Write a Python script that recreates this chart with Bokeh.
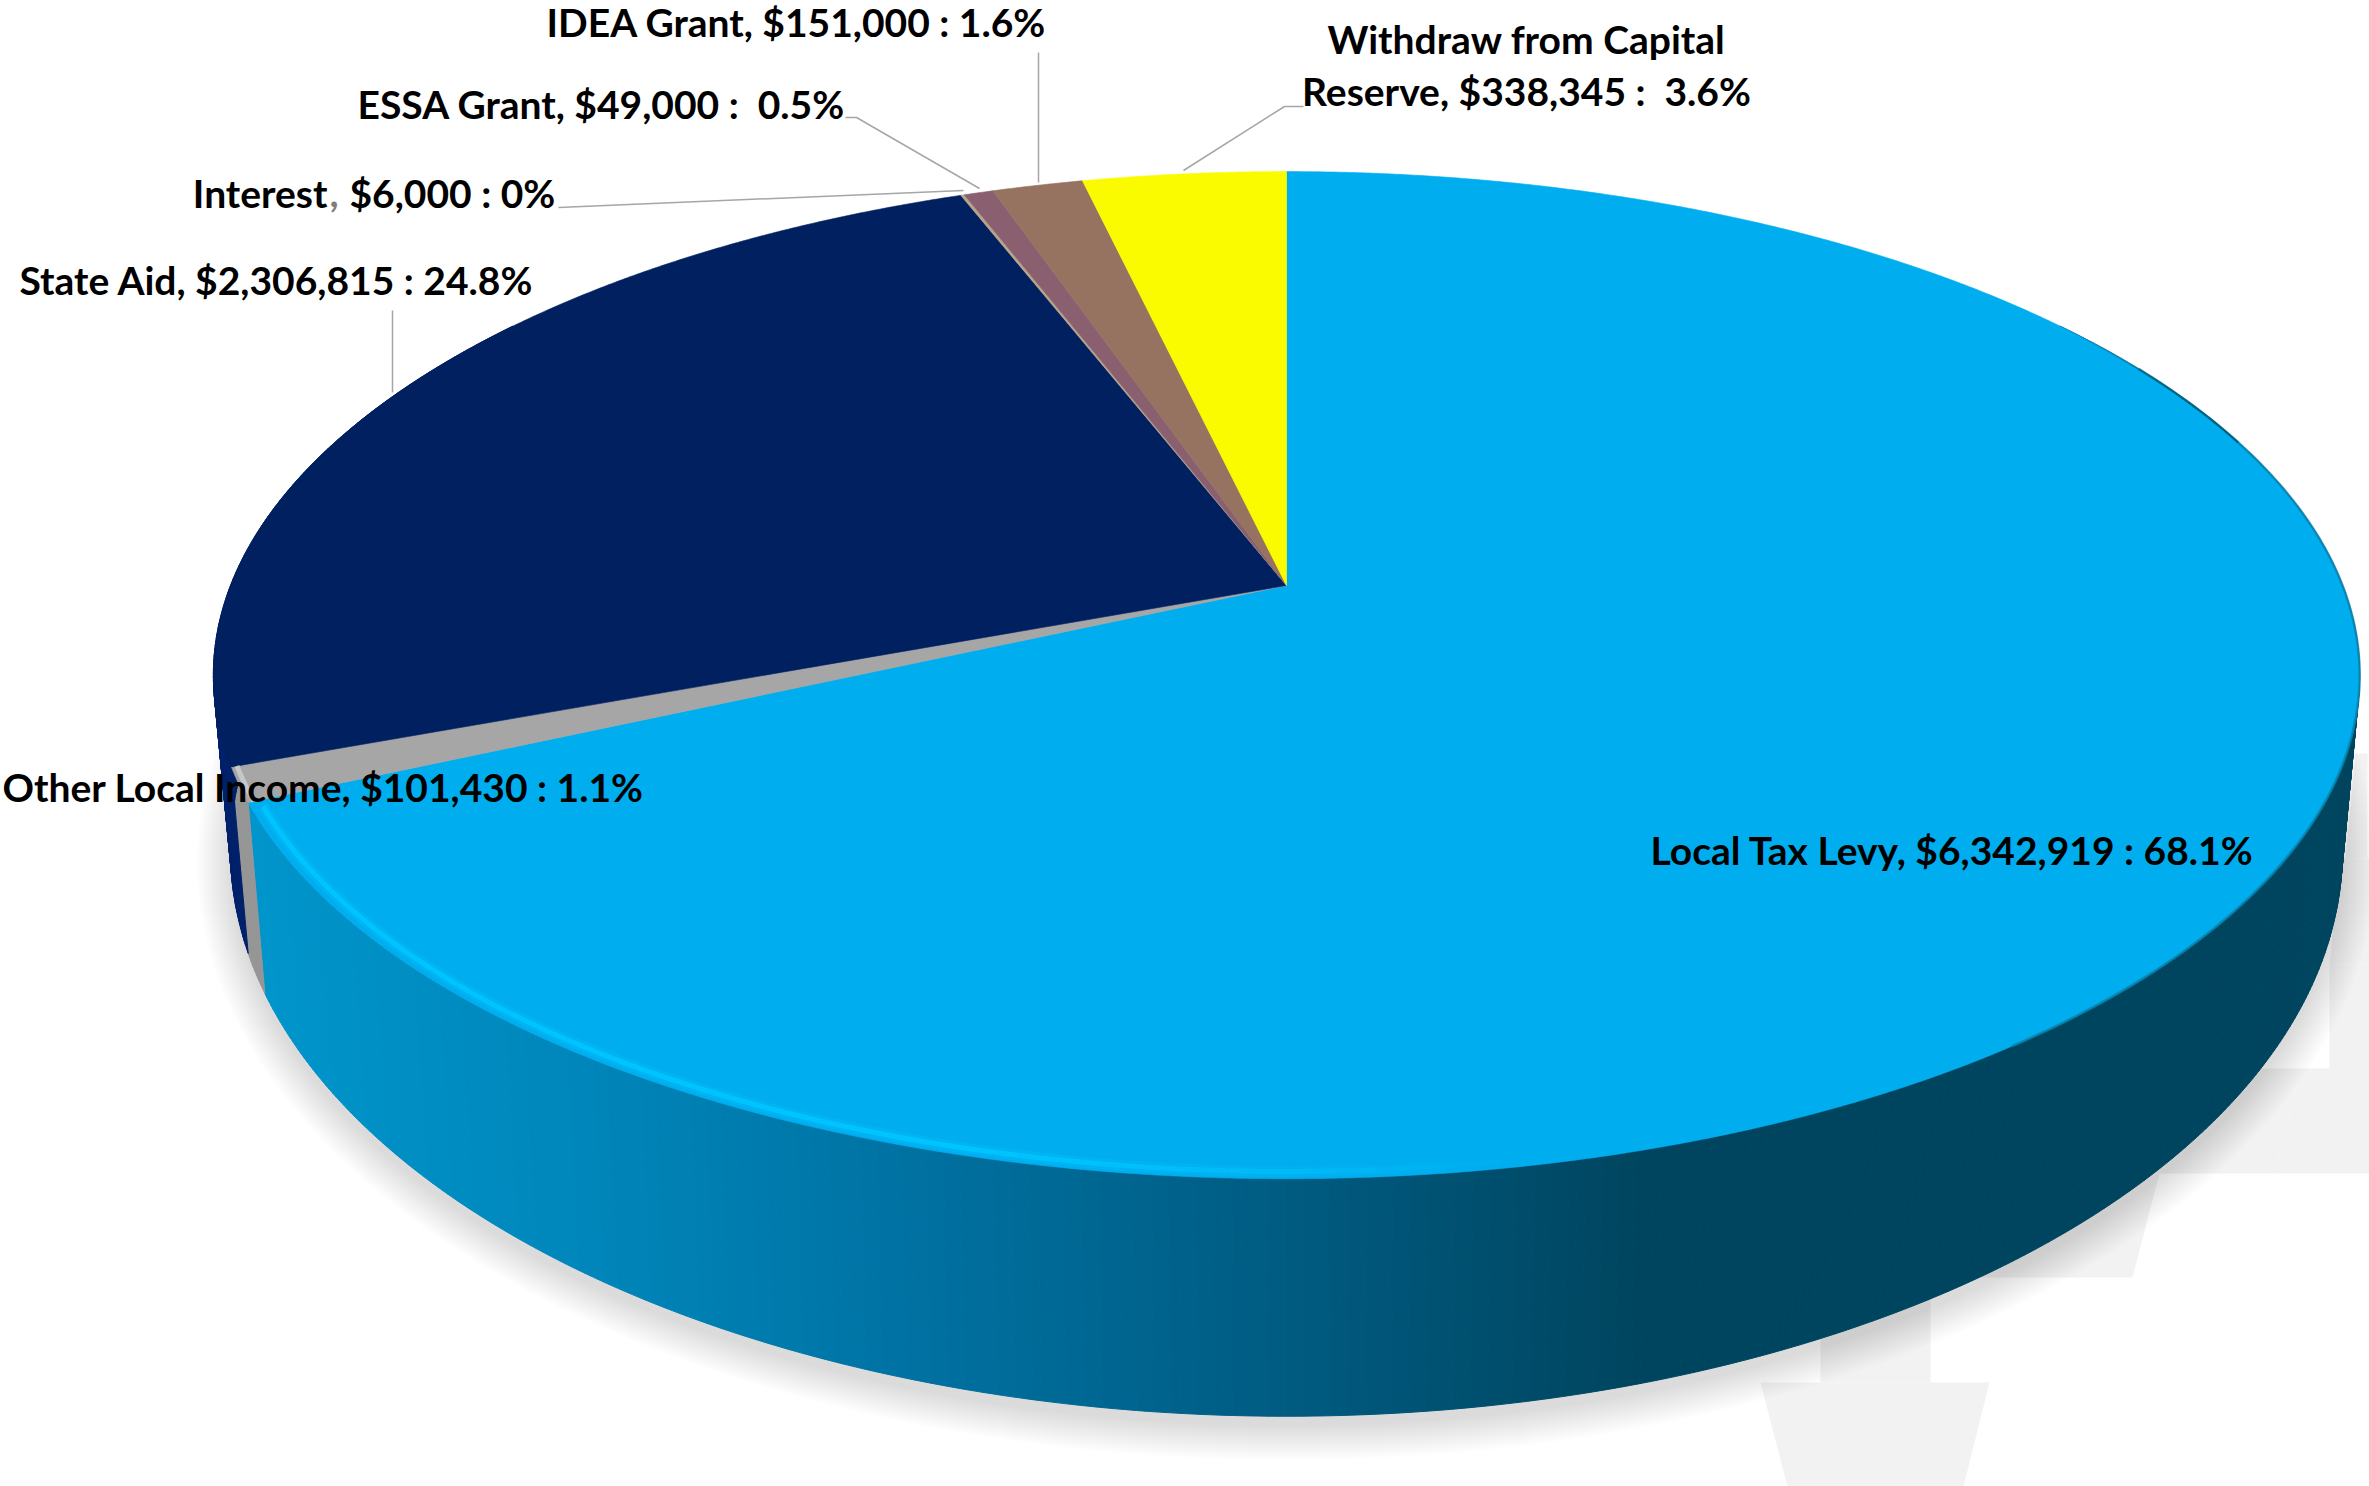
import numpy as np
from bokeh.plotting import figure
from bokeh.models import Range1d
from bokeh.core.properties import value
from bokeh.embed import file_html
from bokeh.resources import INLINE

# ---- data ----
categories = ["Local Tax Levy", "Other Local Income", "State Aid", "Interest",
              "ESSA Grant", "IDEA Grant", "Withdraw from Capital Reserve"]
amounts = [6342919, 101430, 2306815, 6000, 49000, 151000, 338345]
face_colors = ["#00AEEF", "#A6A6A6", "#002060", "#B8A488", "#8A6070", "#957360", "#FBFB00"]
side_colors = ["#00455F", "#969696", "#00226A", "#B8A488", "#8A6070", "#957360", "#FBFB00"]

label_texts = ["IDEA Grant, $151,000 : 1.6%", "ESSA Grant, $49,000 :\u00a0 0.5%", "State Aid, $2,306,815 : 24.8%",
               "Other Local Income, $101,430 : 1.1%", "Local Tax Levy, $6,342,919 : 68.1%"]
label_x = [546, 357, 19, 2, 1650]
label_y = [21, 103, 279, 786, 849]

# geometry of the tilted pie (pixels of the page)
CX, CY = 1286, 585
K, A, B = 0.178, 1056, 487.6
LOW_SX, LOW_SY, LOW_DY = 0.984, 1.124, 164
FS = "39px"
FONT = value("Lato")

W, H = 2369, 1486
p = figure(width=W, height=H, output_backend="svg", toolbar_location=None,
           x_range=Range1d(0, W), y_range=Range1d(H, 0), min_border=0,
           background_fill_color="white", border_fill_color="white", outline_line_color=None)
p.axis.visible = False
p.grid.visible = False


def proj(frac, sx=1.0, sy=1.0, dy=0.0, r=1.0):
    th = 2 * np.pi * np.asarray(frac)
    u, v = r * np.sin(th), -r * np.cos(th)
    w = 1 - K * v
    return CX + sx * A * u / w, CY + dy + sy * B * v / w


# faint stepped arrows behind the pie
back_shapes = [
    [(1760, 1382), (1989, 1382), (1962, 1490), (1788, 1490)],
    [(1820, 1250), (1930, 1250), (1930, 1382), (1820, 1382)],
    [(1800, 1173), (2159, 1173), (2132, 1277), (1800, 1277)],
    [(2000, 1068), (2301, 1068), (2274, 1173), (2000, 1173)],
    [(2329, 964), (2369, 964), (2369, 1173), (2274, 1173), (2301, 1068), (2329, 1068)],
    [(2340, 858), (2369, 858), (2369, 964), (2329, 964)],
    [(2355, 753), (2367, 753), (2367, 858), (2345, 858)],
]
p.patches([[q[0] for q in s] for s in back_shapes], [[q[1] for q in s] for s in back_shapes],
          fill_color="#F2F2F2", line_color=None)

# soft shadow under the pie
t = np.linspace(0, 1, 241)
for grow in np.linspace(34, 0, 18):
    xs, ys = proj(t, LOW_SX, LOW_SY, LOW_DY)
    cx_, cy_ = xs.mean(), ys.mean()
    nx = (xs - cx_) / 1060
    ny = (ys - cy_) / 560
    n = np.hypot(nx, ny)
    p.patch(xs + grow * nx / n, ys + 10 + grow * ny / n, fill_color="#000000", fill_alpha=0.0062, line_color=None)

# side of the pie
grad_x = [250, 600, 900, 1290, 1650, 2369]
grad_g = [0x96, 0x86, 0x73, 0x5C, 0x45, 0x45]
grad_b = [0xCC, 0xBA, 0xA4, 0x82, 0x5F, 0x5F]

fracs = np.array(amounts) / sum(amounts)
edges = np.concatenate([[0], np.cumsum(fracs)])

sx_, sy_, sc_ = [], [], []
for i in range(3):
    lo, hi = edges[i], edges[i + 1]
    lo = max(lo, 0.15)
    hi = min(hi, 0.85)
    m = max(2, int((hi - lo) * 900))
    f = np.linspace(lo, hi, m + 1)
    tx, ty = proj(f)
    bx, by = proj(f, LOW_SX, LOW_SY, LOW_DY)
    for j in range(m):
        sx_.append([tx[j], tx[j + 1], bx[j + 1], bx[j]])
        sy_.append([ty[j], ty[j + 1], by[j + 1], by[j]])
        if i == 0:
            mx = (tx[j] + bx[j]) / 2
            c = "#%02x%02x%02x" % (0, int(np.interp(mx, grad_x, grad_g)), int(np.interp(mx, grad_x, grad_b)))
        else:
            c = side_colors[i]
        sc_.append(c)
p.patches(sx_, sy_, fill_color=sc_, line_color=sc_, line_width=1)

# top faces
fx, fy = [], []
for i in range(len(amounts)):
    m = max(2, int(fracs[i] * 1500))
    xs, ys = proj(np.linspace(edges[i], edges[i + 1], m + 1))
    fx.append([CX] + list(xs))
    fy.append([CY] + list(ys))
p.patches(fx, fy, fill_color=face_colors, line_color=face_colors, line_width=0.6)

# rim effects: dark soft edge on the right, bright bevel at the front left
f = np.linspace(0.17, 0.40, 100)
xs, ys = proj(f, r=1.0)
p.line(xs, ys, line_color="#0A7FA8", line_width=2.5, line_alpha=0.8)
f = np.linspace(0.15, 0.2, 21)
xs, ys = proj(f, r=1.0)
ramp_d = np.clip((f - 0.15) / 0.03, 0, 1) * 0.85
p.multi_line([[xs[i], xs[i + 1]] for i in range(20)], [[ys[i], ys[i + 1]] for i in range(20)],
             line_color="#005A78", line_width=2, line_alpha=list(ramp_d[:-1]))

f = np.linspace(edges[1] - 0.002, 0.47, 80)
xs, ys = proj(f, r=0.990)
ramp = np.clip((f - 0.47) / 0.07, 0, 1)
seg_x = [[xs[i], xs[i + 1]] for i in range(79)]
seg_y = [[ys[i], ys[i + 1]] for i in range(79)]
p.multi_line(seg_x, seg_y, line_color="#00C4FF", line_width=11, line_alpha=list(ramp[:-1] * 0.3))
p.multi_line(seg_x, seg_y, line_color="#00C4FF", line_width=5, line_alpha=list(ramp[:-1]))

f = np.linspace(edges[1], edges[2], 8)
xs, ys = proj(f, r=0.995)
p.line(xs, ys, line_color="#CFCFCF", line_width=5, line_alpha=0.8)

# leader lines
leaders = [
    ([1303, 1284, 1183], [106, 106, 170]),
    ([1038, 1038], [52, 182]),
    ([845, 856, 979], [117, 117, 188]),
    ([558, 963], [207, 190]),
    ([392, 392], [310, 392]),
]
p.multi_line([l[0] for l in leaders], [l[1] for l in leaders], line_color="#A6A6A6", line_width=1.5)

# labels
p.text(label_x, label_y, text=label_texts, text_font=FONT, text_font_style="bold",
       text_font_size=FS, text_color="#000000", text_align="left", text_baseline="alphabetic")
p.text([1526, 1526], [38, 90], text=["Withdraw from Capital", "Reserve, $338,345 :\u00a0 3.6%"], text_font=FONT,
       text_font_style="bold", text_font_size=FS, text_color="#000000", text_align="center", text_baseline="alphabetic")
p.text([327], [192], text=["Interest"], text_font=FONT, text_font_style="bold", text_font_size=FS,
       text_color="#000000", text_align="right", text_baseline="alphabetic")
p.text([329], [192], text=[","], text_font=FONT, text_font_style="bold", text_font_size=FS,
       text_color="#7F7F7F", text_align="left", text_baseline="alphabetic")
p.text([349], [192], text=["$6,000 : 0%"], text_font=FONT, text_font_style="bold", text_font_size=FS,
       text_color="#000000", text_align="left", text_baseline="alphabetic")

open("out.html", "w").write(file_html(p, INLINE))
